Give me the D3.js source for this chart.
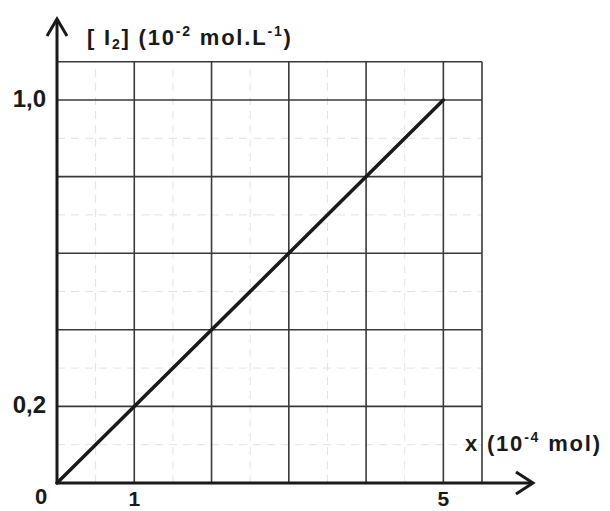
<!DOCTYPE html>
<html>
<head>
<meta charset="utf-8">
<script src="https://cdn.jsdelivr.net/npm/d3@7"></script>
<style>
  html, body { margin: 0; padding: 0; background: #fff; }
  svg { display: block; }
  text { font-family: "Liberation Sans", Arial, sans-serif; font-weight: bold; fill: #1a1a1a; }
</style>
</head>
<body>
<svg id="chart" width="610" height="511"></svg>
<script>
// Measured line: [I2] against x
const xValues = [0, 5];
const yValues = [0, 1.0];

// Labelled ticks
const xTicks = [1, 5];
const xTickLabels = ["1", "5"];
const yTicks = [0.2, 1.0];
const yTickLabels = ["0,2", "1,0"];

// Grid lines: solid every 1 (x) / 0.2 (y), faint dashed in between
const xMajorGrid = [1, 2, 3, 4, 5, 5.5];
const xMinorGrid = [0.5, 1.5, 2.5, 3.5, 4.5];
const yMajorGrid = [0.2, 0.4, 0.6, 0.8, 1.0, 1.1];
const yMinorGrid = [0.1, 0.3, 0.5, 0.7, 0.9];

const svg = d3.select("#chart");

const x = d3.scaleLinear().domain([0, 5.5]).range([57, 482]);
const y = d3.scaleLinear().domain([0, 1.1]).range([483, 61.7]);

const ink = "#1a1a1a";

// minor grid
const g = svg.append("g");
g.selectAll(".vmin").data(xMinorGrid).join("line")
  .attr("x1", d => x(d)).attr("x2", d => x(d))
  .attr("y1", y(0)).attr("y2", y(1.1))
  .attr("stroke", "#e2e2e2").attr("stroke-width", 1)
  .attr("stroke-dasharray", "8,6");
g.selectAll(".hmin").data(yMinorGrid).join("line")
  .attr("x1", x(0)).attr("x2", x(5.5))
  .attr("y1", d => y(d)).attr("y2", d => y(d))
  .attr("stroke", "#e2e2e2").attr("stroke-width", 1)
  .attr("stroke-dasharray", "8,6");

// major grid
g.selectAll(".vmaj").data(xMajorGrid).join("line")
  .attr("x1", d => x(d)).attr("x2", d => x(d))
  .attr("y1", y(0)).attr("y2", y(1.1))
  .attr("stroke", "#3a3a3a").attr("stroke-width", 1.6);
g.selectAll(".hmaj").data(yMajorGrid).join("line")
  .attr("x1", x(0)).attr("x2", x(5.5))
  .attr("y1", d => y(d)).attr("y2", d => y(d))
  .attr("stroke", "#3a3a3a").attr("stroke-width", 1.6);

// axes with open arrowheads
const axisW = 3;
svg.append("line")
  .attr("x1", x(0)).attr("x2", x(0))
  .attr("y1", y(0) + 1).attr("y2", 19)
  .attr("stroke", ink).attr("stroke-width", axisW);
svg.append("path")
  .attr("d", `M${x(0) - 10},36 L${x(0)},19 L${x(0) + 10},36`)
  .attr("fill", "none").attr("stroke", ink).attr("stroke-width", axisW)
  .attr("stroke-linejoin", "miter");

svg.append("line")
  .attr("x1", x(0) - 1).attr("x2", 533)
  .attr("y1", y(0)).attr("y2", y(0))
  .attr("stroke", ink).attr("stroke-width", axisW);
svg.append("path")
  .attr("d", `M516,${y(0) - 11} L533,${y(0)} L516,${y(0) + 11}`)
  .attr("fill", "none").attr("stroke", ink).attr("stroke-width", axisW)
  .attr("stroke-linejoin", "miter");

// data line
const line = d3.line().x(d => x(d[0])).y(d => y(d[1]));
svg.append("path")
  .datum(d3.zip(xValues, yValues))
  .attr("d", line)
  .attr("fill", "none").attr("stroke", ink).attr("stroke-width", 3.5)
  .attr("stroke-linecap", "round");

// tick labels
svg.selectAll(".xt").data(xTicks).join("text")
  .attr("x", d => x(d)).attr("y", 506)
  .attr("text-anchor", "middle").attr("font-size", 21)
  .text((d, i) => xTickLabels[i]);
svg.selectAll(".yt").data(yTicks).join("text")
  .attr("x", 46).attr("y", d => y(d) + 7)
  .attr("text-anchor", "end").attr("font-size", 24)
  .text((d, i) => yTickLabels[i]);
svg.append("text")
  .attr("x", 41).attr("y", 504)
  .attr("text-anchor", "middle").attr("font-size", 22)
  .text("0");

// axis titles
const yt = svg.append("text").attr("x", 87).attr("y", 45)
  .attr("font-size", 22).attr("letter-spacing", 1.8);
yt.append("tspan").text("[ I");
yt.append("tspan").attr("font-size", 14).attr("dy", 4).text("2");
yt.append("tspan").attr("dy", -4).text("] (10");
yt.append("tspan").attr("font-size", 14).attr("dy", -9).text("-2");
yt.append("tspan").attr("dy", 9).text(" mol.L");
yt.append("tspan").attr("font-size", 14).attr("dy", -9).text("-1");
yt.append("tspan").attr("dy", 9).text(")");

const xt = svg.append("text").attr("x", 465).attr("y", 451)
  .attr("font-size", 22).attr("letter-spacing", 1.8);
xt.append("tspan").text("x (10");
xt.append("tspan").attr("font-size", 14).attr("dy", -9).text("-4");
xt.append("tspan").attr("dy", 9).text(" mol)");
</script>
</body>
</html>
